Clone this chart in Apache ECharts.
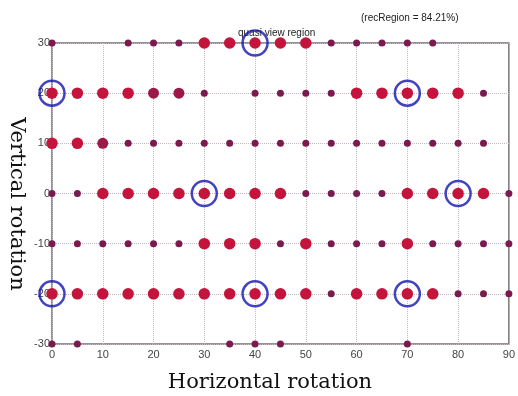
<!DOCTYPE html>
<html>
<head>
<meta charset="utf-8">
<script src="https://cdn.jsdelivr.net/npm/echarts@6/dist/echarts.min.js"></script>
<style>
html, body { margin: 0; padding: 0; background: #fff; }
#main { width: 518px; height: 396px; }
</style>
</head>
<body>
<div id="main"></div>
<script>
// sample positions (degrees)
var h_angles = [0, 5, 10, 15, 20, 25, 30, 35, 40, 45, 50, 55, 60, 65, 70, 75, 80, 85, 90]
var v_angles = [30, 20, 10, 0, -10, -20, -30]

// 0 = no sample, 1 = weak, 2 = medium, 3 = strong
var row_p30 = [1, 0, 0, 1, 1, 1, 3, 3, 3, 3, 3, 1, 1, 1, 1, 1, 0, 0, 0]
var row_p20 = [3, 3, 3, 3, 2, 2, 1, 0, 1, 1, 1, 1, 3, 3, 3, 3, 3, 1, 0]
var row_p10 = [3, 3, 2, 1, 1, 1, 1, 1, 1, 1, 1, 1, 1, 1, 1, 1, 1, 1, 0]
var row_0 = [1, 1, 3, 3, 3, 3, 3, 3, 3, 3, 1, 1, 1, 1, 3, 3, 3, 3, 1]
var row_m10 = [1, 1, 1, 1, 1, 1, 3, 3, 3, 1, 3, 1, 1, 1, 3, 1, 1, 1, 1]
var row_m20 = [3, 3, 3, 3, 3, 3, 3, 3, 3, 3, 3, 1, 3, 3, 3, 3, 1, 1, 1]
var row_m30 = [1, 1, 0, 0, 0, 0, 0, 1, 1, 1, 0, 0, 0, 0, 1, 0, 0, 0, 0]
var rows = [row_p30, row_p20, row_p10, row_0, row_m10, row_m20, row_m30]

// selected views (circled)
var selected = [[40, 30], [0, 20], [70, 20], [30, 0], [80, 0], [0, -20], [40, -20], [70, -20]]

var title_text = 'quasi view region'
var rec_text = '(recRegion = 84.21%)'

var points = []
for (var r = 0; r < rows.length; r++) {
	for (var c = 0; c < h_angles.length; c++) {
		if (rows[r][c] > 0) points.push([h_angles[c], v_angles[r], rows[r][c]])
	}
}

var sizes = {1: 7, 2: 11, 3: 11.5}
var colors = {1: '#7b1a4e', 2: '#9c1848', 3: '#c4143c'}

var chartDom = document.getElementById('main');
var myChart = echarts.init(chartDom);
var option;

option = {
	animation: false,
	grid: {
		left: 52,
		right: 6,
		top: 43,
		bottom: 52,
		show: true,
		borderColor: '#707070',
		borderWidth: 1.5
	},
	xAxis: {
		type: 'value',
		min: 0,
		max: 90,
		interval: 10,
		axisLine: { show: false },
		axisTick: { show: false },
		axisLabel: { color: '#444', fontSize: 11, fontFamily: 'Arial, Liberation Sans', margin: 5 },
		splitLine: { show: true, lineStyle: { color: '#c4b8c2', type: 'dotted', width: 1 } }
	},
	yAxis: {
		type: 'value',
		min: -30,
		max: 30,
		interval: 10,
		axisLine: { show: false },
		axisTick: { show: false },
		axisLabel: { color: '#444', fontSize: 11, fontFamily: 'Arial, Liberation Sans', margin: 2 },
		splitLine: { show: true, lineStyle: { color: '#c4b8c2', type: 'dotted', width: 1 } }
	},
	graphic: [{
		type: 'text',
		left: 238,
		top: 28,
		style: { text: title_text, fill: '#222', font: '10px Arial, Liberation Sans' }
	}, {
		type: 'text',
		left: 361,
		top: 13,
		style: { text: rec_text, fill: '#222', font: '10px Arial, Liberation Sans' }
	}, {
		type: 'text',
		x: 270,
		y: 383,
		style: { text: 'Horizontal rotation', fill: '#111', font: '21px DejaVu Serif', align: 'center', verticalAlign: 'middle' }
	}, {
		type: 'text',
		x: 16,
		y: 204,
		rotation: -Math.PI / 2,
		style: { text: 'Vertical rotation', fill: '#111', font: '21px DejaVu Serif', align: 'center', verticalAlign: 'middle' }
	}],
	series: [{
		type: 'scatter',
		data: points,
		symbolSize: function (val) { return sizes[val[2]] },
		itemStyle: {
			opacity: 1,
			color: function (p) { return colors[p.data[2]] }
		}
	}, {
		type: 'scatter',
		data: selected,
		symbolSize: 25,
		z: 3,
		itemStyle: {
			color: 'rgba(0,0,0,0)',
			borderColor: '#1414b0',
			borderWidth: 2.5
		}
	}]
};

myChart.setOption(option)
</script>
</body>
</html>
